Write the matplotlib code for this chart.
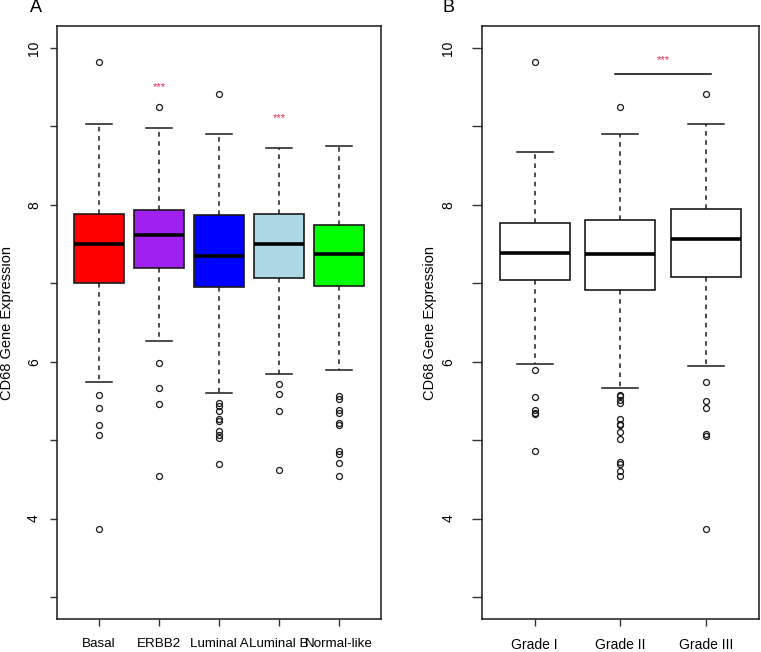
import matplotlib
matplotlib.use("Agg")
import matplotlib.pyplot as plt

plt.rcParams['font.family'] = ['Liberation Sans', 'DejaVu Sans']

# Panel A: PAM50 subtypes
subtypes = ['Basal', 'ERBB2', 'Luminal A', 'Luminal B', 'Normal-like']
subtype_colors = ['#FF0000', '#A020F0', '#0000FF', '#ADD8E6', '#00FF00']
sub_whislo = [5.74, 6.27, 5.60, 5.84, 5.90]
sub_q1 = [7.01, 7.19, 6.95, 7.07, 6.97]
sub_med = [7.50, 7.62, 7.35, 7.50, 7.37]
sub_q3 = [7.89, 7.93, 7.87, 7.89, 7.75]
sub_whishi = [9.03, 8.98, 8.90, 8.73, 8.75]
sub_fliers = [
    [9.82, 5.57, 5.41, 5.19, 5.07, 3.87],
    [9.25, 5.99, 5.67, 5.46, 4.54],
    [9.42, 5.48, 5.43, 5.37, 5.27, 5.24, 5.12, 5.07, 5.03, 4.70],
    [5.72, 5.59, 5.37, 4.62],
    [5.56, 5.52, 5.39, 5.35, 5.22, 5.20, 4.86, 4.83, 4.71, 4.54],
]
sub_stars = [None, 9.50, None, 9.11, None]

# Panel B: tumour grade
grades = ['Grade I', 'Grade II', 'Grade III']
gr_whislo = [5.97, 5.67, 5.95]
gr_q1 = [7.04, 6.92, 7.08]
gr_med = [7.39, 7.37, 7.57]
gr_q3 = [7.77, 7.81, 7.95]
gr_whishi = [8.68, 8.90, 9.03]
gr_fliers = [
    [9.82, 5.90, 5.55, 5.38, 5.35, 5.34, 4.86],
    [9.25, 5.58, 5.56, 5.51, 5.48, 5.27, 5.21, 5.19, 5.10, 5.02, 4.72, 4.70, 4.61, 4.54],
    [9.42, 5.74, 5.50, 5.41, 5.08, 5.05, 3.87],
]
bracket_x = [1.94, 3.06]
bracket_y = 9.67
bracket_star_y = 9.85

star_color = '#E8284A'


def make_stats(whislo, q1, med, q3, whishi, fliers):
    stats = []
    for i in range(len(med)):
        stats.append(dict(whislo=whislo[i], q1=q1[i], med=med[i], q3=q3[i],
                          whishi=whishi[i], fliers=fliers[i]))
    return stats


def draw_box(ax, stats, labels, colors, ytick_len, ytick_pad, ylab_x, xsize):
    n = len(stats)
    bp = ax.bxp(stats, positions=range(1, n + 1), widths=0.82, patch_artist=True,
                showfliers=True,
                boxprops=dict(edgecolor='#1a1a1a', linewidth=1.2),
                medianprops=dict(color='black', linewidth=2.6),
                whiskerprops=dict(color='#1a1a1a', linewidth=1.1, linestyle=(0, (3, 3))),
                capprops=dict(color='#1a1a1a', linewidth=1.1),
                flierprops=dict(marker='o', markersize=4.3, markerfacecolor='none',
                                markeredgecolor='#1a1a1a', markeredgewidth=0.9))
    for patch, c in zip(bp['boxes'], colors):
        patch.set_facecolor(c)
    # caps half the box width, as in R
    for cap in bp['caps']:
        x = cap.get_xdata()
        m = (x[0] + x[1]) / 2
        cap.set_xdata([m - 0.21, m + 0.21])
    ax.set_xlim(0.5 - 0.04 * n, n + 0.5 + 0.04 * n)
    ax.set_ylim(2.72, 10.28)
    ax.set_yticks(range(3, 11))
    ax.set_yticklabels(['' if v % 2 else str(v) for v in range(3, 11)],
                       rotation=90, va='center')
    ax.set_xticks(range(1, n + 1))
    ax.set_xticklabels(labels)
    ax.tick_params(axis='both', width=1, color='#333333')
    ax.tick_params(axis='x', length=5, pad=9, labelsize=xsize)
    ax.tick_params(axis='y', length=ytick_len, pad=ytick_pad, labelsize=10)
    for s in ax.spines.values():
        s.set_linewidth(1.1)
        s.set_color('#1a1a1a')
    ax.set_ylabel('CD68 Gene Expression', fontsize=10.5)
    ax.yaxis.set_label_coords(ylab_x, 0.5)


fig = plt.figure(figsize=(7.61, 6.52), dpi=100)
axA = fig.add_axes([0.0749, 0.0506, 0.4258, 0.9094])
axB = fig.add_axes([0.633, 0.0506, 0.3644, 0.9094])

draw_box(axA, make_stats(sub_whislo, sub_q1, sub_med, sub_q3, sub_whishi, sub_fliers),
         subtypes, subtype_colors, 5, 6.5, -0.133, 9.6)
for i, sy in enumerate(sub_stars):
    if sy is not None:
        axA.text(i + 1, sy, '***', color=star_color, fontsize=8, ha='center', va='center')

draw_box(axB, make_stats(gr_whislo, gr_q1, gr_med, gr_q3, gr_whishi, gr_fliers),
         grades, ['white'] * 3, 7, 12, -0.161, 10)
axB.plot(bracket_x, [bracket_y, bracket_y], color='black', linewidth=1.1)
axB.text(sum(bracket_x) / 2, bracket_star_y, '***', color=star_color, fontsize=8,
         ha='center', va='center')

fig.text(36 / 761, 1 + 1 / 652, 'A', fontsize=13, va='top', ha='center')
fig.text(448 / 761, 1 + 1 / 652, 'B', fontsize=13, va='top', ha='center')

fig.savefig('out.png', dpi=100)
